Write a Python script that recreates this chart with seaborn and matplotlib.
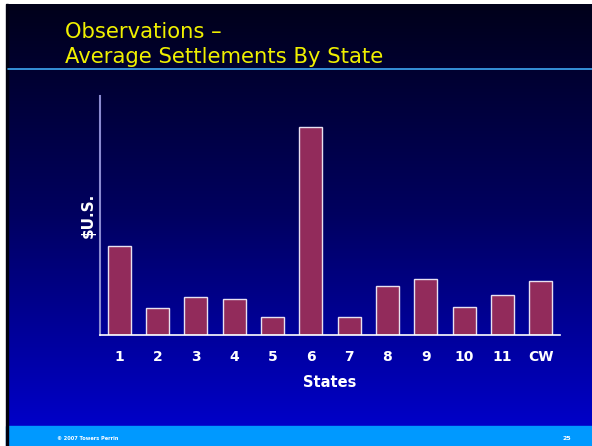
import numpy as np
import pandas as pd
import matplotlib
matplotlib.use("Agg")
import matplotlib.pyplot as plt
import seaborn as sns
from matplotlib.colors import LinearSegmentedColormap

states = ["1", "2", "3", "4", "5", "6", "7", "8", "9", "10", "11", "CW"]
settlements = [89, 27, 38, 36, 18, 208, 18, 49, 56, 28, 40, 54]

title_lines = ["Observations \u2013", "Average Settlements By State"]
x_label = "States"
y_label = "$U.S."
footer_left = "\u00a9 2007 Towers Perrin"
footer_right = "25"

sns.set_theme(style="white")
plt.rcParams['font.family'] = ['DejaVu Sans']

W, H = 592, 446
fig = plt.figure(figsize=(W / 100, H / 100), dpi=100)
fig.patch.set_facecolor("white")

# background panel with gradient
bg = fig.add_axes([0, 0, 1, 1], zorder=0)
bg.set_xlim(0, W)
bg.set_ylim(H, 0)
bg.axis("off")
cmap = LinearSegmentedColormap.from_list("bg", ["#00001a", "#000060", "#0000c8"])
grad = np.linspace(0, 1, 256).reshape(-1, 1)
bg.imshow(grad, cmap=cmap, aspect="auto", extent=[6, W, 426, 4], zorder=0)
bg.add_patch(plt.Rectangle((6, 426), W - 6, 20, color="#0099ff", zorder=1))
bg.add_patch(plt.Rectangle((5.5, 4), 2, H - 4, color="#000010", zorder=2))
bg.plot([8, W], [69, 69], color="#3fa9f5", lw=1.2, zorder=3)
bg.text(65, 38, title_lines[0], color="#f0f000", fontsize=15.2, va="baseline", ha="left")
bg.text(65, 63, title_lines[1], color="#f0f000", fontsize=15.2, va="baseline", ha="left")
bg.text(57, 438, footer_left, color="white", fontsize=3.6, fontweight="bold", va="center", ha="left")
bg.text(567, 438, footer_right, color="white", fontsize=4.5, fontweight="bold", va="center", ha="center")

ax = fig.add_axes([100 / W, 1 - 335 / H, 460 / W, 239 / H], zorder=2)
ax.patch.set_alpha(0)
df = pd.DataFrame({"state": states, "value": settlements})
sns.barplot(data=df, x="state", y="value", color="#922b5b", saturation=1,
            width=0.6, edgecolor="#e8e0f0", linewidth=1.0, ax=ax)
ax.set_xlim(-0.5, len(states) - 0.5)
ax.set_ylim(0, 239)
ax.set_yticks([])
for s in ["top", "right"]:
    ax.spines[s].set_visible(False)
ax.spines["left"].set_color("#8a8ad0")
ax.spines["left"].set_linewidth(1.5)
ax.spines["bottom"].set_color("white")
ax.spines["bottom"].set_linewidth(1.2)
ax.tick_params(axis="x", length=0, pad=11, colors="white", labelsize=10)
for lbl in ax.get_xticklabels():
    lbl.set_fontweight("bold")
ax.set_xlabel(x_label, color="white", fontsize=10.5, fontweight="bold", labelpad=8)
ax.set_ylabel(y_label, color="white", fontsize=11, fontweight="bold", labelpad=3)

fig.savefig("out.png", dpi=100)
